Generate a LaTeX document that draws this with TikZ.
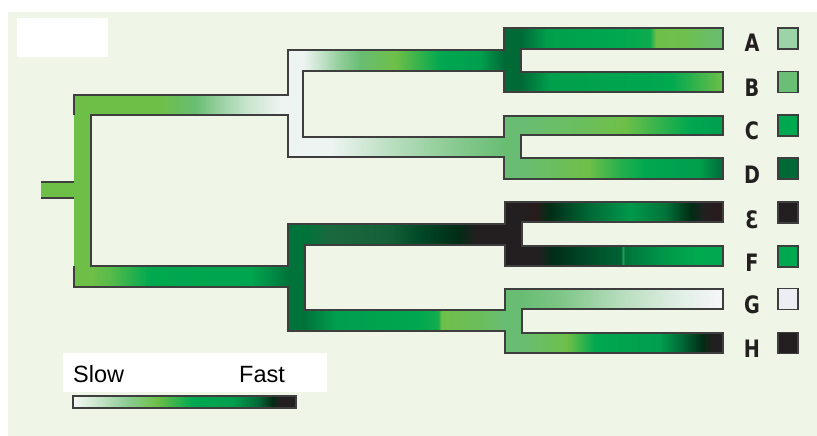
\documentclass[tikz,border=0pt]{standalone}
\usepackage{fontspec}
\newfontfamily\labfont{DejaVu Sans}[FakeStretch=0.8]
\newfontfamily\legfont{Liberation Sans}
\definecolor{bg}{RGB}{239,246,232}
\definecolor{yg}{RGB}{110,191,72}
\definecolor{lg}{RGB}{105,189,115}
\definecolor{gr}{RGB}{0,168,80}
\definecolor{gr2}{RGB}{0,158,77}
\definecolor{dg}{RGB}{0,106,55}
\definecolor{nt}{RGB}{0,115,58}
\definecolor{dk}{RGB}{35,31,32}
\definecolor{dkr}{RGB}{42,28,28}
\definecolor{vdg}{RGB}{0,45,22}
\definecolor{wh}{RGB}{238,244,242}
\definecolor{gw}{RGB}{246,246,250}
\definecolor{lw}{RGB}{245,248,245}
\definecolor{ol}{RGB}{62,62,62}
\definecolor{ca}{RGB}{28,104,62}
\definecolor{cb}{RGB}{20,95,55}
\definecolor{cc}{RGB}{0,72,38}
\definecolor{fa}{RGB}{0,85,45}
\definecolor{fb}{RGB}{0,98,52}
\definecolor{fc}{RGB}{30,160,85}
\definecolor{sqA}{RGB}{156,212,168}
\definecolor{sqB}{RGB}{107,190,117}
\definecolor{sqG}{RGB}{236,238,243}
% trunk upper
\pgfdeclarehorizontalshading{shA}{100bp}{color(0bp)=(yg); color(25bp)=(yg); color(42.5bp)=(yg); color(51.4bp)=(lg); color(56.5bp)=(lg!70!wh); color(64.1bp)=(lg!30!wh); color(73bp)=(wh); color(100bp)=(wh)}
% trunk lower
\pgfdeclarehorizontalshading{shB}{100bp}{color(0bp)=(yg); color(25bp)=(yg); color(29.8bp)=(yg!80!gr); color(40bp)=(gr); color(65.4bp)=(gr!95!dg); color(70.4bp)=(gr!55!dg); color(75bp)=(nt); color(100bp)=(nt)}
% node2 upper
\pgfdeclarehorizontalshading{shC}{100bp}{color(0bp)=(wh); color(25bp)=(wh); color(29.2bp)=(lg!30!wh); color(34.2bp)=(lg!70!wh); color(39.2bp)=(lg); color(47.9bp)=(yg); color(59.1bp)=(gr); color(69bp)=(gr2); color(72.8bp)=(gr!30!dg); color(75bp)=(dg); color(100bp)=(dg)}
% node2 lower
\pgfdeclarehorizontalshading{shD}{100bp}{color(0bp)=(wh); color(25bp)=(wh); color(31.7bp)=(wh); color(49.1bp)=(lg!45!wh); color(64.1bp)=(lg!80!wh); color(75bp)=(lg); color(100bp)=(lg)}
% A
\pgfdeclarehorizontalshading{shE}{100bp}{color(0bp)=(dg); color(25bp)=(dg); color(31.4bp)=(gr!85!dg); color(49.5bp)=(gr); color(56.9bp)=(gr!88!yg); color(58.4bp)=(yg); color(65.6bp)=(yg!85!lg); color(75bp)=(lg); color(100bp)=(lg)}
% B
\pgfdeclarehorizontalshading{shF}{100bp}{color(0bp)=(dg); color(25bp)=(dg); color(32.2bp)=(gr!85!dg); color(61.9bp)=(gr); color(69.3bp)=(yg!55!gr); color(75bp)=(yg); color(100bp)=(yg)}
% C
\pgfdeclarehorizontalshading{shG}{100bp}{color(0bp)=(lg); color(25bp)=(lg); color(39.6bp)=(lg!50!yg); color(50.7bp)=(yg); color(59.4bp)=(yg!45!gr); color(66.8bp)=(gr); color(75bp)=(gr2); color(100bp)=(gr2)}
% D
\pgfdeclarehorizontalshading{shH}{100bp}{color(0bp)=(lg); color(25bp)=(lg); color(41.6bp)=(yg); color(49.5bp)=(yg!35!gr); color(55.7bp)=(gr); color(69.3bp)=(gr2); color(75bp)=(dg); color(100bp)=(dg)}
% node3 upper
\pgfdeclarehorizontalshading{shI}{100bp}{color(0bp)=(nt); color(25bp)=(nt); color(31.25bp)=(ca); color(46.25bp)=(cb); color(53.75bp)=(cc); color(63bp)=(vdg); color(67.5bp)=(dk); color(75bp)=(dk); color(100bp)=(dk)}
% node3 lower
\pgfdeclarehorizontalshading{shJ}{100bp}{color(0bp)=(nt); color(25bp)=(nt); color(32.5bp)=(gr2); color(53.75bp)=(gr); color(58.25bp)=(gr!80!yg); color(59bp)=(yg); color(68.75bp)=(yg!50!lg); color(75bp)=(lg); color(100bp)=(lg)}
% E
\pgfdeclarehorizontalshading{shK}{100bp}{color(0bp)=(dk); color(25bp)=(dk); color(28.2bp)=(dkr); color(32bp)=(vdg); color(41.9bp)=(dg); color(51.9bp)=(gr!75!dg); color(60.6bp)=(nt); color(66.8bp)=(vdg); color(70.5bp)=(dk); color(75bp)=(dkr); color(100bp)=(dkr)}
% F
\pgfdeclarehorizontalshading{shL}{100bp}{color(0bp)=(dk); color(25bp)=(dk); color(29bp)=(dk); color(32.5bp)=(vdg); color(44.4bp)=(fa); color(49.6bp)=(fb); color(50.1bp)=(fc); color(50.6bp)=(nt); color(60.6bp)=(gr!75!dg); color(68bp)=(gr); color(75bp)=(gr); color(100bp)=(gr)}
% G
\pgfdeclarehorizontalshading{shM}{100bp}{color(0bp)=(lg); color(25bp)=(lg); color(34.5bp)=(lg!85!wh); color(49.4bp)=(lg!42!wh); color(64.3bp)=(lg!10!wh); color(75bp)=(gw); color(100bp)=(gw)}
% H
\pgfdeclarehorizontalshading{shN}{100bp}{color(0bp)=(lg); color(25bp)=(lg); color(36.2bp)=(yg); color(43.2bp)=(gr); color(59.3bp)=(gr2); color(65.5bp)=(dg!90!black); color(69.8bp)=(vdg); color(72.3bp)=(dk); color(75bp)=(dk); color(100bp)=(dk)}
% legend
\pgfdeclarehorizontalshading{shO}{100bp}{color(0bp)=(lw); color(25bp)=(lw); color(31.1bp)=(lg!35!lw); color(37.1bp)=(lg!75!lw); color(43.8bp)=(yg); color(51.9bp)=(gr); color(60.9bp)=(gr2); color(66.5bp)=(dg); color(69.6bp)=(vdg); color(71.4bp)=(dk); color(75bp)=(dk); color(100bp)=(dk)}
\tikzset{
  outl/.style={draw=ol, line width=1.4pt, line join=miter},
  sqbox/.style={draw=ol, line width=1.3pt, minimum width=20pt, minimum height=21pt, inner sep=0pt},
  lab/.style={anchor=base, inner sep=0pt, text=dk, font=\labfont\bfseries\fontsize{24}{24}\selectfont},
  leg/.style={anchor=base west, inner sep=0pt, text=black, font=\legfont\fontsize{23.5}{24}\selectfont}
}
\begin{document}
\begin{tikzpicture}[x=1pt,y=-1pt]
\useasboundingbox (0,0) rectangle (817,436);
\fill[white] (0,0) rectangle (817,436);
\fill[bg] (8,12) rectangle (817,436);
\fill[white] (17,18) rectangle (108,57);
% --- fills ---
\fill[yg] (41,182) rectangle (75,198);
\fill[yg] (74,95) rectangle (91.5,287);
\shade[shading=shA] (91,95) rectangle (288.5,115);
\shade[shading=shB] (91,266) rectangle (288.5,287);
\fill[wh] (288,50) rectangle (303.5,157);
\shade[shading=shC] (303,50) rectangle (504.5,71);
\shade[shading=shD] (303,137) rectangle (504.5,157);
\fill[dg] (504,28) rectangle (521.5,92);
\shade[shading=shE] (521,28) rectangle (723,49);
\shade[shading=shF] (521,72) rectangle (723,92);
\fill[lg] (504,116) rectangle (521.5,179);
\shade[shading=shG] (521,116) rectangle (723,135);
\shade[shading=shH] (521,158) rectangle (723,179);
\fill[nt] (288,224) rectangle (305.5,331);
\shade[shading=shI] (305,224) rectangle (505.5,245);
\shade[shading=shJ] (305,310) rectangle (505.5,331);
\fill[dk] (505,202) rectangle (522.5,266);
\shade[shading=shK] (522,202) rectangle (723,222);
\shade[shading=shL] (522,246) rectangle (723,266);
\fill[lg] (505,289) rectangle (522.5,353);
\shade[shading=shM] (522,289) rectangle (723,309);
\shade[shading=shN] (522,333) rectangle (723,353);
% --- outlines ---
\draw[outl] (41,182) -- (74,182);
\draw[outl] (74,198) -- (41,198);
\draw[outl] (74,115) -- (74,95) -- (288,95) -- (288,50) -- (504,50) -- (504,28) -- (723,28) -- (723,49) -- (521,49) -- (521,72) -- (723,72) -- (723,92) -- (504,92) -- (504,71) -- (303,71) -- (303,137) -- (504,137) -- (504,116) -- (723,116) -- (723,135) -- (521,135) -- (521,158) -- (723,158) -- (723,179) -- (504,179) -- (504,157) -- (288,157) -- (288,115) -- (91,115) -- (91,266) -- (288,266) -- (288,224) -- (505,224) -- (505,202) -- (723,202) -- (723,222) -- (522,222) -- (522,246) -- (723,246) -- (723,266) -- (505,266) -- (505,245) -- (305,245) -- (305,310) -- (505,310) -- (505,289) -- (723,289) -- (723,309) -- (522,309) -- (522,333) -- (723,333) -- (723,353) -- (505,353) -- (505,331) -- (288,331) -- (288,287) -- (74,287) -- (74,266);
% --- labels ---
\node[lab] (lA) at (752,52) {A};
\node[lab] (lB) at (752,96.5) {B};
\node[lab] (lC) at (752,139.5) {C};
\node[lab] (lD) at (752,183) {D};
\node[lab] (lE) at (752,228.5) {Ɛ};
\node[lab] (lF) at (752,271) {F};
\node[lab] (lG) at (752,313.5) {G};
\node[lab] (lH) at (752,357) {H};
% --- squares ---
\node[sqbox, fill=sqA] (sA) at (788,38.5) {};
\node[sqbox, fill=sqB] (sB) at (788,82) {};
\node[sqbox, fill=gr] (sC) at (788,125.5) {};
\node[sqbox, fill=dg] (sD) at (788,168.5) {};
\node[sqbox, fill=dk] (sE) at (788,212.5) {};
\node[sqbox, fill=gr] (sF) at (788,256.5) {};
\node[sqbox, fill=sqG] (sG) at (788,299) {};
\node[sqbox, fill=dk] (sH) at (788,343) {};
% --- legend ---
\fill[white] (63,353) rectangle (327,392);
\node[leg] (slow) at (73,382) {Slow};
\node[leg] (fast) at (239,382) {Fast};
\shade[shading=shO] (73,396) rectangle (296,408);
\draw[outl, line width=1.3pt] (73,396) rectangle (296,408);
\end{tikzpicture}
\end{document}
